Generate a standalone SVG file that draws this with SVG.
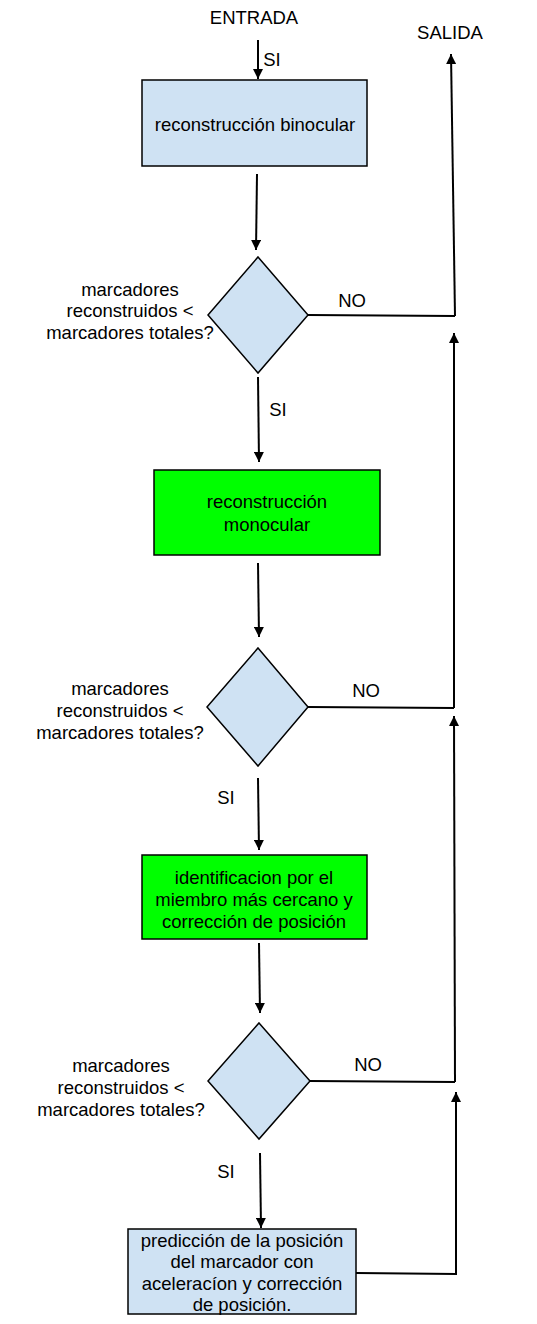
<svg xmlns="http://www.w3.org/2000/svg" width="537" height="1324" viewBox="0 0 537 1324">
<style>
text{font-family:"Liberation Sans",Arial,sans-serif;font-size:18.5px;fill:#000;text-anchor:middle}
.blue{fill:#cfe2f3;stroke:#000;stroke-width:1.5}
.green{fill:#00ff00;stroke:#000;stroke-width:1.5}
.ln{stroke:#000;stroke-width:2;fill:none}
</style>
<defs>
<marker id="ah" viewBox="0 0 10 10" refX="10" refY="5" markerWidth="5.5" markerHeight="5" orient="auto" markerUnits="strokeWidth">
<path d="M0,0 L10,5 L0,10 z" fill="#000"/>
</marker>
</defs>
<rect width="537" height="1324" fill="#fff"/>
<g id="connectors">
<line class="ln" x1="258" y1="40" x2="258" y2="79" marker-end="url(#ah)"/>
<line class="ln" x1="257" y1="174" x2="256" y2="250" marker-end="url(#ah)"/>
<line class="ln" x1="258" y1="377" x2="259" y2="462" marker-end="url(#ah)"/>
<line class="ln" x1="258" y1="563" x2="259" y2="637" marker-end="url(#ah)"/>
<line class="ln" x1="258" y1="778" x2="259" y2="850" marker-end="url(#ah)"/>
<line class="ln" x1="259" y1="943" x2="260" y2="1013" marker-end="url(#ah)"/>
<line class="ln" x1="260" y1="1153" x2="261" y2="1228" marker-end="url(#ah)"/>
<polyline class="ln" points="308,315 455,316"/>
<line class="ln" x1="455" y1="316" x2="451" y2="54" marker-end="url(#ah)"/>
<polyline class="ln" points="308,707 454,708"/>
<line class="ln" x1="454" y1="708" x2="454" y2="333" marker-end="url(#ah)"/>
<polyline class="ln" points="310,1081 455,1082"/>
<line class="ln" x1="455" y1="1082" x2="454" y2="716" marker-end="url(#ah)"/>
<polyline class="ln" points="356,1273 456,1274 456,1092" marker-end="url(#ah)"/>
</g>
<g id="entrada"><text x="254" y="24">ENTRADA</text></g>
<g id="salida"><text x="450" y="39">SALIDA</text></g>
<g id="labels">
<text x="272" y="66">SI</text>
<text x="278" y="416">SI</text>
<text x="226" y="804">SI</text>
<text x="226" y="1178">SI</text>
<text x="352" y="307">NO</text>
<text x="366" y="697">NO</text>
<text x="368" y="1071">NO</text>
</g>
<g id="box1">
<rect class="blue" x="142" y="80" width="225" height="86"/>
<text x="255" y="131">reconstrucción binocular</text>
</g>
<g id="diamond1">
<polygon class="blue" points="258,257 308,315 258,373 208,315"/>
<text x="130" y="296">marcadores</text>
<text x="130" y="317">reconstruidos &lt;</text>
<text x="130" y="339">marcadores totales?</text>
</g>
<g id="box2">
<rect class="green" x="154" y="470" width="226" height="85"/>
<text x="267" y="508">reconstrucción</text>
<text x="267" y="531">monocular</text>
</g>
<g id="diamond2">
<polygon class="blue" points="258,648 308,707 258,766 207,707"/>
<text x="120" y="695">marcadores</text>
<text x="120" y="717">reconstruidos &lt;</text>
<text x="120" y="739">marcadores totales?</text>
</g>
<g id="box3">
<rect class="green" x="142" y="855" width="225" height="84"/>
<text x="254" y="884">identificacion por el</text>
<text x="254" y="906">miembro más cercano y</text>
<text x="254" y="928">corrección de posición</text>
</g>
<g id="diamond3">
<polygon class="blue" points="259,1023 310,1081 259,1139 208,1081"/>
<text x="121" y="1072">marcadores</text>
<text x="121" y="1094">reconstruidos &lt;</text>
<text x="121" y="1116">marcadores totales?</text>
</g>
<g id="box4">
<rect class="blue" x="128" y="1229" width="228" height="85"/>
<text x="242" y="1247">predicción de la posición</text>
<text x="242" y="1268">del marcador con</text>
<text x="242" y="1290">aceleracíon y corrección</text>
<text x="242" y="1311">de posición.</text>
</g>
</svg>
